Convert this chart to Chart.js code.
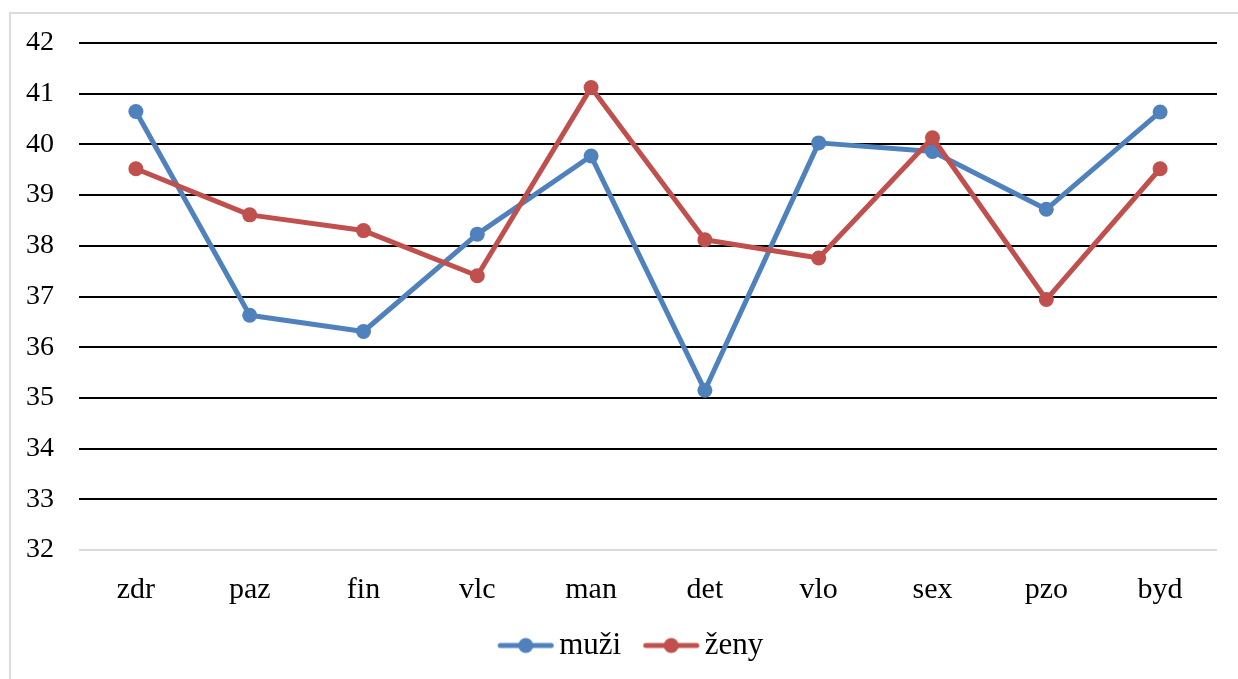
<!DOCTYPE html>
<html>
<head>
<meta charset="utf-8">
<script src="https://cdn.jsdelivr.net/npm/chart.js@4/dist/chart.umd.min.js"></script>
<style>
  html, body { margin: 0; padding: 0; background: #fff; }
  #frame {
    position: absolute; left: 9px; top: 12px; width: 1300px; height: 700px;
    border-top: 2px solid #dcdcdc; border-left: 2px solid #dcdcdc;
  }
  #wrap { position: absolute; left: 0; top: 0; width: 1238px; height: 679px; }
</style>
</head>
<body>
<div id="frame"></div>
<div id="wrap"><canvas id="chart"></canvas></div>
<script>
// Categories and series
const categories = ['zdr', 'paz', 'fin', 'vlc', 'man', 'det', 'vlo', 'sex', 'pzo', 'byd'];
const muzi = [40.65, 36.63, 36.31, 38.23, 39.77, 35.15, 40.03, 39.86, 38.72, 40.64];
const zeny = [39.52, 38.61, 38.30, 37.41, 41.12, 38.12, 37.76, 40.13, 36.94, 39.52];
const yTicks = [32, 33, 34, 35, 36, 37, 38, 39, 40, 41, 42];

const BLUE = '#4F81BD';
const RED = '#C0504D';
const FONT = "'Liberation Serif', 'Times New Roman', serif";

// Legend marker: short line with a dot in the middle.
// The image is centred on the legend box, so the visible marker sits in its right part.
function marker(color) {
  const c = document.createElement('canvas');
  c.width = 80; c.height = 18;
  const g = c.getContext('2d');
  g.strokeStyle = color; g.lineWidth = 5; g.lineCap = 'round';
  g.beginPath(); g.moveTo(25.5, 9); g.lineTo(76.5, 9); g.stroke();
  g.fillStyle = color;
  g.beginPath(); g.arc(51, 9, 7.5, 0, Math.PI * 2); g.fill();
  return c;
}
const markers = [marker(BLUE), marker(RED)];

// Nudge the legend row a little to the right of the canvas centre
const legendShift = {
  id: 'legendShift',
  afterLayout(chart) {
    if (chart.legend) { chart.legend.left += 16; chart.legend.right += 16; }
  }
};

new Chart(document.getElementById('chart'), {
  type: 'line',
  data: {
    labels: categories,
    datasets: [
      { label: 'muži', data: muzi, borderColor: BLUE, backgroundColor: BLUE,
        borderWidth: 5, pointRadius: 7.5, pointHoverRadius: 7.5, pointBorderWidth: 0,
        borderJoinStyle: 'round', borderCapStyle: 'round', tension: 0, order: 1 },
      { label: 'ženy', data: zeny, borderColor: RED, backgroundColor: RED,
        borderWidth: 5, pointRadius: 7.5, pointHoverRadius: 7.5, pointBorderWidth: 0,
        borderJoinStyle: 'round', borderCapStyle: 'round', tension: 0, order: 0 }
    ]
  },
  plugins: [legendShift],
  options: {
    responsive: true,
    maintainAspectRatio: false,
    animation: false,
    layout: { padding: { top: 43, right: 21, left: 0, bottom: 8 } },
    plugins: {
      tooltip: { enabled: false },
      legend: {
        position: 'bottom',
        labels: {
          usePointStyle: true,
          pointStyleWidth: 58,
          padding: 10,
          color: '#000',
          font: { family: FONT, size: 31 },
          generateLabels(chart) {
            return chart.data.datasets.map((ds, i) => ({
              text: ds.label,
              pointStyle: markers[i],
              fillStyle: ds.borderColor,
              strokeStyle: ds.borderColor,
              lineWidth: 0,
              fontColor: '#000',
              datasetIndex: i,
              hidden: false
            }));
          }
        }
      }
    },
    scales: {
      x: {
        offset: true,
        grid: { display: false, drawTicks: false },
        border: { display: false },
        ticks: { color: '#000', padding: 22, font: { family: FONT, size: 30 } },
        afterFit(scale) { scale.height = 70; }
      },
      y: {
        min: 32, max: 42,
        afterBuildTicks(scale) { scale.ticks = yTicks.map(v => ({ value: v })); },
        grid: {
          drawTicks: false,
          lineWidth: 2,
          color: ctx => (ctx.tick && ctx.tick.value === 32) ? '#d9d9d9' : '#000'
        },
        border: { display: false },
        ticks: { color: '#000', padding: 25, font: { family: FONT, size: 28 } },
        afterFit(scale) { scale.width = 79; }
      }
    }
  }
});
</script>
</body>
</html>
